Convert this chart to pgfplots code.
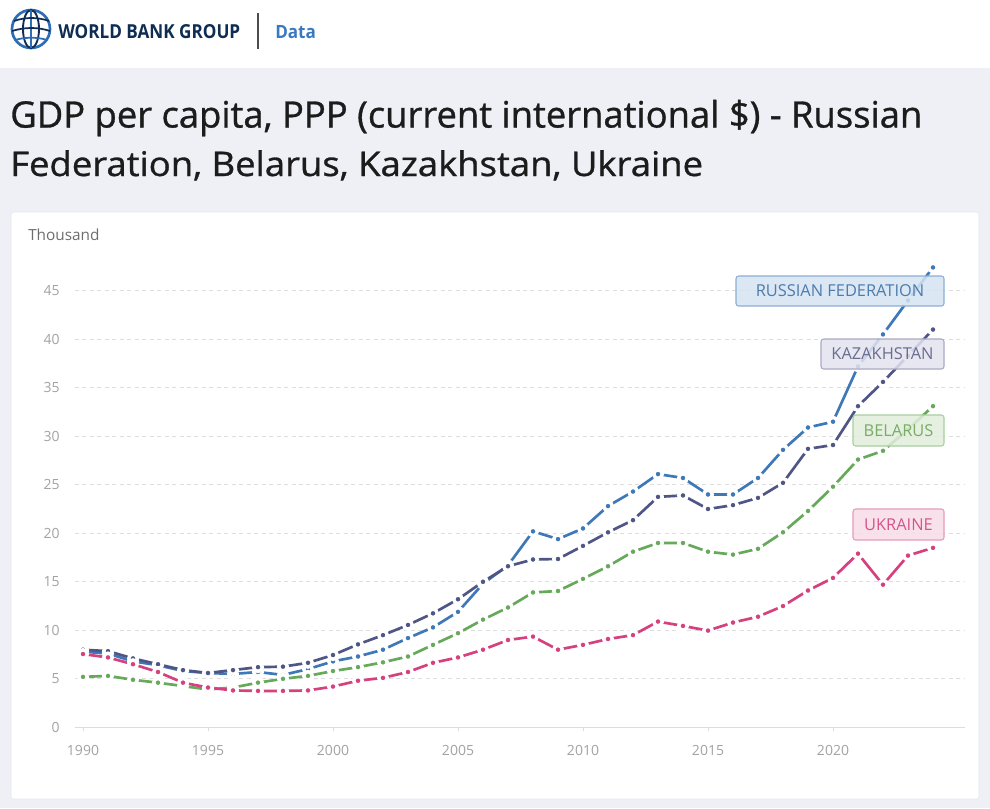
\documentclass[border=0pt]{standalone}
\usepackage{pgfplots}
\pgfplotsset{compat=1.18}
\usepackage{fontspec}
\setmainfont{Open Sans}
\newfontfamily\titlefont{Open Sans}[BoldFont={Open Sans}, BoldFeatures={FakeBold=0.9}]
\definecolor{bg}{HTML}{EEF0F5}
\definecolor{panelborder}{HTML}{E4E7EE}
\definecolor{titlec}{HTML}{1C1C1C}
\definecolor{rus}{HTML}{3E78B8}
\definecolor{kaz}{HTML}{4F5685}
\definecolor{blr}{HTML}{66A95A}
\definecolor{ukr}{HTML}{D6407E}
\definecolor{axisc}{HTML}{DCDCDC}
\definecolor{gridc}{HTML}{DDDDDD}
\definecolor{labelc}{HTML}{A3A3A3}
\definecolor{thc}{HTML}{6E6E6E}
\definecolor{navy}{HTML}{0F2D52}
\definecolor{logob}{HTML}{2C6DB5}
\definecolor{datac}{HTML}{3A78C0}
\pgfplotsset{ser/.style={#1, line width=2pt, mark=*, mark size=3.2pt,
  mark options={fill=#1, draw=white, line width=2.6pt, solid}}}
\begin{document}
\begin{tikzpicture}
\begin{scope}[x=0.75pt,y=-0.75pt]
\fill[bg] (0,0) rectangle (990,808);
\fill[white] (0,0) rectangle (990,68);
\filldraw[fill=white, draw=panelborder, rounded corners=2pt] (11,212) rectangle (979,799);
% logo
\draw[line width=2pt, logob] (31,29) circle (19);
\draw[line width=1.4pt, navy] (31,29) ellipse (8 and 19);
\draw[line width=1.4pt, logob] (31,10) -- (31,48);
\draw[line width=1.3pt, navy] (14,21) .. controls (25,17) and (38,17) .. (49,21);
\draw[line width=1.3pt, navy] (12,31) .. controls (25,27) and (38,27) .. (50,31);
\draw[line width=1.3pt, logob] (15,40) .. controls (25,37) and (38,37) .. (47,40);
\node[anchor=base west, inner sep=0, text=navy] at (58,38.5)
  {\resizebox{136.5pt}{10.5pt}{\bfseries WORLD BANK GROUP}};
\draw[line width=1.2pt, black!70] (258,13) -- (258,49);
\node[anchor=base west, inner sep=0, text=datac] at (275,38.5)
  {\resizebox{30.5pt}{9.8pt}{\bfseries Data}};
% title
\node[anchor=base west, inner sep=0, text=titlec] at (10,127.5)
  {\resizebox{684pt}{!}{\titlefont\bfseries\fontsize{25.5}{28}\selectfont GDP per capita, PPP (current international \$) - Russian}};
\node[anchor=base west, inner sep=0, text=titlec] at (10,176)
  {\scalebox{1.072}[1]{\titlefont\bfseries\fontsize{25.5}{28}\selectfont Federation, Belarus, Kazakhstan, Ukraine}};
\node[anchor=base west, inner sep=0, text=thc, font=\fontsize{11.5}{13}\selectfont] at (28,240)
  {Thousand};
\end{scope}
\begin{axis}[
  at={(56.25pt,-545.475pt)}, anchor=south west,
  scale only axis, width=667.5pt, height=352.9pt,
  xmin=1989.68, xmax=2025.28, ymin=0, ymax=48.5,
  axis x line*=bottom, axis y line*=left,
  x axis line style={draw=axisc, line width=0.8pt, -},
  y axis line style={draw=none},
  xtick={1990,1995,...,2020}, ytick={0,5,...,45},
  tick align=outside, major tick length=3pt,
  xtick style={draw=axisc, line width=0.6pt},
  ytick style={draw=none},
  ymajorgrids, grid style={dash pattern=on 3pt off 2.6pt, draw=gridc, line width=0.6pt},
  tick label style={font=\fontsize{10.5}{12}\selectfont, text=labelc},
  /pgf/number format/assume math mode=true,
  xticklabel style={/pgf/number format/1000 sep={}, yshift=-7pt},
  yticklabel style={xshift=-5pt},
]
\addplot[ser=rus] coordinates {
(1990,7.8)(1991,7.6)(1992,6.8)(1993,6.4)(1994,5.8)(1995,5.6)(1996,5.5)(1997,5.7)(1998,5.4)(1999,6.0)
(2000,6.8)(2001,7.3)(2002,8.0)(2003,9.2)(2004,10.3)(2005,11.9)(2006,14.8)(2007,16.7)(2008,20.2)(2009,19.4)
(2010,20.5)(2011,22.8)(2012,24.3)(2013,26.1)(2014,25.7)(2015,24.0)(2016,24.0)(2017,25.7)(2018,28.6)(2019,30.9)
(2020,31.5)(2021,37.2)(2022,40.5)(2023,44.0)(2024,47.4)};
\addplot[ser=blr] coordinates {
(1990,5.2)(1991,5.3)(1992,4.9)(1993,4.6)(1994,4.25)(1995,3.9)(1996,4.1)(1997,4.6)(1998,5.0)(1999,5.3)
(2000,5.8)(2001,6.2)(2002,6.7)(2003,7.3)(2004,8.5)(2005,9.7)(2006,11.1)(2007,12.35)(2008,13.9)(2009,14.05)
(2010,15.3)(2011,16.6)(2012,18.1)(2013,19.0)(2014,19.0)(2015,18.1)(2016,17.8)(2017,18.4)(2018,20.1)(2019,22.3)
(2020,24.8)(2021,27.6)(2022,28.5)(2023,30.7)(2024,33.1)};
\addplot[ser=kaz] coordinates {
(1990,8.0)(1991,7.85)(1992,7.1)(1993,6.5)(1994,5.9)(1995,5.6)(1996,5.9)(1997,6.2)(1998,6.25)(1999,6.65)
(2000,7.45)(2001,8.55)(2002,9.5)(2003,10.55)(2004,11.75)(2005,13.2)(2006,15.0)(2007,16.6)(2008,17.3)(2009,17.35)
(2010,18.7)(2011,20.1)(2012,21.35)(2013,23.75)(2014,23.9)(2015,22.5)(2016,22.9)(2017,23.65)(2018,25.2)(2019,28.7)
(2020,29.1)(2021,33.1)(2022,35.6)(2023,38.3)(2024,41.0)};
\addplot[ser=ukr] coordinates {
(1990,7.55)(1991,7.2)(1992,6.5)(1993,5.7)(1994,4.6)(1995,4.1)(1996,3.8)(1997,3.75)(1998,3.75)(1999,3.8)
(2000,4.2)(2001,4.8)(2002,5.1)(2003,5.7)(2004,6.65)(2005,7.2)(2006,8.0)(2007,9.0)(2008,9.35)(2009,8.0)
(2010,8.5)(2011,9.1)(2012,9.5)(2013,10.9)(2014,10.45)(2015,9.97)(2016,10.8)(2017,11.4)(2018,12.5)(2019,14.1)
(2020,15.4)(2021,17.9)(2022,14.7)(2023,17.7)(2024,18.5)};
\end{axis}
\begin{scope}[x=0.75pt,y=-0.75pt, font=\fontsize{12.3}{14}\selectfont]
\filldraw[fill={rgb,255:red,213;green,227;blue,241}, draw={rgb,255:red,140;green,175;blue,214}, fill opacity=0.85, rounded corners=2pt, line width=0.8pt] (736,276) rectangle (944,306);
\node[text={rgb,255:red,76;green,123;blue,174}] at (840,291) {RUSSIAN FEDERATION};
\filldraw[fill={rgb,255:red,227;green,227;blue,240}, draw={rgb,255:red,169;green,169;blue,198}, fill opacity=0.85, rounded corners=2pt, line width=0.8pt] (821,339) rectangle (944,369);
\node[text={rgb,255:red,107;green,109;blue,142}] at (882.5,354) {KAZAKHSTAN};
\filldraw[fill={rgb,255:red,225;green,238;blue,219}, draw={rgb,255:red,168;green,207;blue,156}, fill opacity=0.85, rounded corners=2pt, line width=0.8pt] (853,415) rectangle (944,446);
\node[text={rgb,255:red,121;green,172;blue,102}] at (898.5,430.5) {BELARUS};
\filldraw[fill={rgb,255:red,247;green,220;blue,231}, draw={rgb,255:red,230;green,155;blue,185}, fill opacity=0.85, rounded corners=2pt, line width=0.8pt] (853,509) rectangle (944,540);
\node[text={rgb,255:red,212;green,85;blue,138}] at (898.5,524.5) {UKRAINE};
\end{scope}
\pgfresetboundingbox
\path (0pt,0pt) rectangle (742.5pt,-606pt);
\end{tikzpicture}
\end{document}
